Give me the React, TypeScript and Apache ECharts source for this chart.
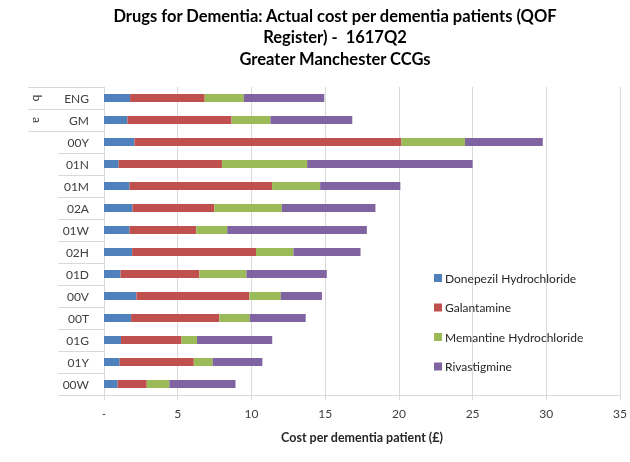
import React, { useEffect, useRef } from 'react';
import * as echarts from 'echarts';

const categories = ['ENG', 'GM', '00Y', '01N', '01M', '02A', '01W', '02H', '01D', '00V', '00T', '01G', '01Y', '00W'];
const groupLabels = ['b', 'a'];
const donepezil = [1.77, 1.59, 2.07, 0.99, 1.73, 1.93, 1.73, 1.91, 1.12, 2.2, 1.84, 1.15, 1.06, 0.92];
const galantamine = [5.06, 7.06, 18.1, 7.01, 9.67, 5.55, 4.53, 8.4, 5.35, 7.66, 5.98, 4.11, 5.03, 1.98];
const memantine = [2.65, 2.64, 4.31, 5.78, 3.26, 4.58, 2.1, 2.54, 3.19, 2.13, 2.06, 1.05, 1.28, 1.53];
const rivastigmine = [5.46, 5.55, 5.28, 11.22, 5.44, 6.35, 9.47, 4.55, 5.45, 2.79, 3.8, 5.1, 3.37, 4.49];
const seriesNames = ['Donepezil Hydrochloride', 'Galantamine', 'Memantine Hydrochloride', 'Rivastigmine'];
const seriesColors = ['#4F81BD', '#C0504D', '#9BBB59', '#8064A2'];
const titleLines = ['Drugs for Dementia: Actual cost per dementia patients (QOF', 'Register) -  1617Q2', 'Greater Manchester CCGs'];
const axisTitle = 'Cost per dementia patient (£)';

const FONT = 'Lato, Calibri, "Open Sans", sans-serif';

export default function App() {
  const ref = useRef<HTMLDivElement>(null);
  useEffect(() => {
    const chart = echarts.init(ref.current!, null, { renderer: 'svg' });
    const values = [donepezil, galantamine, memantine, rivastigmine];
    chart.setOption({
      animation: false,
      textStyle: { fontFamily: FONT },
      legend: {
        orient: 'vertical',
        left: 429,
        top: 267,
        itemWidth: 8,
        itemHeight: 8,
        itemGap: 17.5,
        icon: 'rect',
        textStyle: { fontSize: 12, color: '#262626', fontFamily: FONT, padding: [0, 0, 0, -2] },
        data: seriesNames,
      },
      grid: { left: 104, right: 7, top: 87, bottom: 67, containLabel: false },
      xAxis: {
        type: 'value',
        min: 0,
        max: 35,
        interval: 5,
        name: axisTitle,
        nameLocation: 'middle',
        nameGap: 36,
        nameTextStyle: { fontWeight: 'bold', fontSize: 12.5, color: '#262626', fontFamily: FONT },
        axisLine: { show: true, lineStyle: { color: '#d9d9d9' } },
        axisTick: { show: true, length: 5, lineStyle: { color: '#d9d9d9' } },
        axisLabel: {
          fontSize: 12,
          color: '#404040',
          margin: 12,
          fontFamily: FONT,
          formatter: (v: number) => (v === 0 ? '-' : String(v)),
        },
        splitLine: { show: true, lineStyle: { color: '#d9d9d9' } },
      },
      yAxis: {
        type: 'category',
        inverse: true,
        data: categories,
        axisLine: { show: true, lineStyle: { color: '#d9d9d9' } },
        axisTick: { show: true, length: 46, lineStyle: { color: '#d9d9d9' } },
        axisLabel: { fontSize: 12, color: '#404040', margin: 15, fontFamily: FONT },
        splitLine: { show: false },
      },
      series: seriesNames.map((name, i) => ({
        name,
        type: 'bar',
        stack: 'total',
        barWidth: 8,
        itemStyle: { color: seriesColors[i] },
        data: values[i],
      })),
    });

    const c0 = chart.convertToPixel({ yAxisIndex: 0 }, categories[0]) as number;
    const c1 = chart.convertToPixel({ yAxisIndex: 0 }, categories[1]) as number;
    const band = c1 - c0;
    const xAxis0 = chart.convertToPixel({ xAxisIndex: 0 }, 0) as number;
    const xLeft = 28;
    const xRight = xAxis0 - 46;
    const boundaries = [c0 - band / 2, c0 + band / 2, c1 + band / 2];
    const graphics: any[] = [
      {
        type: 'text',
        x: 335,
        y: 5,
        style: {
          text: titleLines.join('\n'),
          fontSize: 16.5,
          fontWeight: 'bold',
          fontFamily: FONT,
          fill: '#000',
          textAlign: 'center',
          lineHeight: 21.5,
        },
      },
    ];
    boundaries.forEach((y) => {
      graphics.push({
        type: 'line',
        shape: { x1: xLeft, y1: Math.round(y) + 0.5, x2: xRight, y2: Math.round(y) + 0.5 },
        style: { stroke: '#d9d9d9', lineWidth: 1 },
      });
    });
    groupLabels.forEach((t, i) => {
      const cy = chart.convertToPixel({ yAxisIndex: 0 }, categories[i]) as number;
      graphics.push({
        type: 'text',
        x: 37,
        y: cy,
        rotation: -Math.PI / 2,
        style: {
          text: t,
          fontSize: 12,
          fontFamily: FONT,
          fill: '#404040',
          textAlign: 'center',
          textVerticalAlign: 'middle',
        },
      });
    });
    chart.setOption({ graphic: graphics });
    return () => chart.dispose();
  }, []);
  return <div ref={ref} style={{ position: 'fixed', left: 0, top: 0, width: 630, height: 462 }} />;
}
